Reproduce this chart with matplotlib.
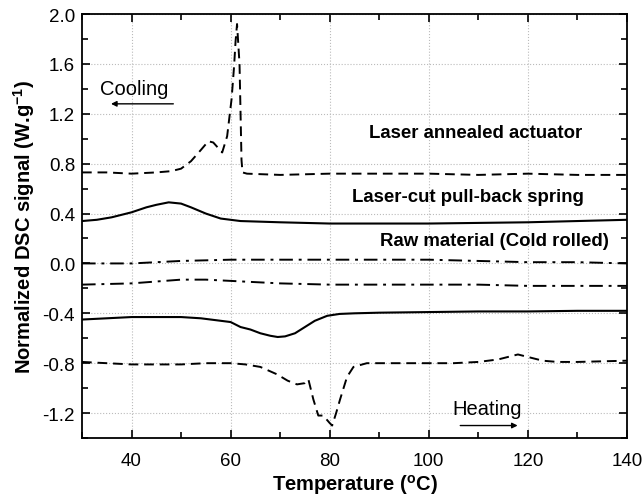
import matplotlib
matplotlib.use("Agg")
import matplotlib.pyplot as plt

plt.rcParams['font.family'] = ['Liberation Sans', 'DejaVu Sans']

# laser annealed actuator, cooling (dashed, top)
act_cool_t = [30, 35, 40, 45, 48, 50, 52, 54, 55.5, 56.5, 58.3, 59.3, 60.2, 60.7, 61.0, 61.3,
              61.8, 62.0, 62.2, 62.4, 63.3, 70, 80, 90, 100, 110, 120, 130, 140]
act_cool_s = [0.73, 0.73, 0.72, 0.73, 0.74, 0.76, 0.82, 0.91, 0.98, 0.97, 0.89, 1.02, 1.32, 1.58, 1.78, 1.92,
              1.60, 1.22, 0.83, 0.73, 0.72, 0.71, 0.72, 0.72, 0.72, 0.71, 0.72, 0.71, 0.71]

# laser-cut pull-back spring, cooling (solid)
spr_cool_t = [30, 33, 36, 40, 43, 45, 47.5, 50, 52, 55, 58, 62, 66, 70, 80, 90, 100, 110, 120, 130, 140]
spr_cool_s = [0.34, 0.35, 0.37, 0.41, 0.45, 0.47, 0.49, 0.48, 0.45, 0.40, 0.36, 0.34, 0.335, 0.33, 0.32,
              0.32, 0.32, 0.325, 0.33, 0.34, 0.35]

# raw material (cold rolled), cooling and heating (dash-dot)
raw_cool_t = [30, 40, 50, 60, 70, 80, 90, 100, 110, 120, 130, 140]
raw_cool_s = [0.0, 0.0, 0.02, 0.03, 0.03, 0.03, 0.03, 0.03, 0.02, 0.01, 0.01, 0.0]
raw_heat_t = [30, 40, 50, 55, 60, 70, 80, 90, 100, 110, 120, 130, 140]
raw_heat_s = [-0.17, -0.16, -0.13, -0.13, -0.14, -0.16, -0.17, -0.17, -0.17, -0.17, -0.18, -0.18, -0.18]

# laser-cut pull-back spring, heating (solid)
spr_heat_t = [30, 35, 40, 45, 50, 54, 58, 60, 61, 62, 64, 66, 68, 69.5, 71, 73, 75, 77, 79.5, 82,
              85, 90, 100, 110, 120, 130, 140]
spr_heat_s = [-0.45, -0.44, -0.43, -0.43, -0.43, -0.44, -0.46, -0.47, -0.49, -0.51, -0.53, -0.56, -0.58,
              -0.59, -0.585, -0.56, -0.51, -0.46, -0.42, -0.405, -0.40, -0.395, -0.39, -0.385, -0.385, -0.38, -0.38]

# laser annealed actuator, heating (dashed, bottom)
act_heat_t = [30, 35, 40, 45, 50, 55, 60, 63, 66, 69.4, 71.5, 73.4, 75.0, 75.7, 76.7, 77.7, 78.7, 80.0, 80.5,
              81.3, 82.1, 83.5, 84.8, 87.5, 90, 100, 105, 110, 114, 116, 118, 120, 123, 126, 130, 140]
act_heat_s = [-0.79, -0.80, -0.81, -0.81, -0.81, -0.80, -0.80, -0.81, -0.83, -0.89, -0.94, -0.97, -0.96, -0.93,
              -1.09, -1.22, -1.22, -1.28, -1.30, -1.20, -1.09, -0.91, -0.83, -0.80, -0.80, -0.80, -0.80, -0.79,
              -0.77, -0.75, -0.73, -0.75, -0.78, -0.79, -0.79, -0.78]

fig = plt.figure(figsize=(6.43, 5.02), dpi=100)
ax = fig.add_axes([0.1275, 0.1255, 0.8475, 0.8445])

dash = (0, (5, 3))
dashdot = (0, (7, 3, 1.5, 3))
ax.plot(act_cool_t, act_cool_s, color='black', lw=1.4, linestyle=dash)
ax.plot(spr_cool_t, spr_cool_s, color='black', lw=1.5)
ax.plot(raw_cool_t, raw_cool_s, color='black', lw=1.4, linestyle=dashdot)
ax.plot(raw_heat_t, raw_heat_s, color='black', lw=1.4, linestyle=dashdot)
ax.plot(spr_heat_t, spr_heat_s, color='black', lw=1.5)
ax.plot(act_heat_t, act_heat_s, color='black', lw=1.4, linestyle=dash)

ax.set_xlim(30, 140)
ax.set_ylim(-1.4, 2.0)
ax.set_xticks([40, 60, 80, 100, 120, 140])
ax.set_xticks([30, 50, 70, 90, 110, 130], minor=True)
ax.set_yticks([-1.2, -0.8, -0.4, 0.0, 0.4, 0.8, 1.2, 1.6, 2.0])
ax.set_yticks([-1.4, -1.0, -0.6, -0.2, 0.2, 0.6, 1.0, 1.4, 1.8], minor=True)
ax.set_yticklabels(['-1.2', '-0.8', '-0.4', '0.0', '0.4', '0.8', '1.2', '1.6', '2.0'])
ax.grid(True, which='major', color='#bbbbbb', linestyle=':', linewidth=0.8)
ax.tick_params(which='both', direction='in', top=True, right=True, labelsize=13.5, width=1.2)
ax.tick_params(which='major', length=6, pad=5)
ax.tick_params(which='minor', length=4)
ax.tick_params(axis='x', which='major', pad=10)
for s in ax.spines.values():
    s.set_linewidth(1.3)

ax.set_xlabel('Temperature ($^{\\mathregular{o}}$C)', fontsize=14.5, fontweight='bold', labelpad=2)
ax.set_ylabel('Normalized DSC signal (W.g$^{\\mathregular{-1}}$)', fontsize=14.5, fontweight='bold', labelpad=4)

ax.text(109.4, 1.05, 'Laser annealed actuator', ha='center', va='center', fontsize=13.4, fontweight='bold')
ax.text(108.0, 0.54, 'Laser-cut pull-back spring', ha='center', va='center', fontsize=13.4, fontweight='bold')
ax.text(113.2, 0.18, 'Raw material (Cold rolled)', ha='center', va='center', fontsize=13.4, fontweight='bold')

ax.text(33.6, 1.40, 'Cooling', ha='left', va='center', fontsize=14.5)
ax.annotate('', xy=(35.3, 1.28), xytext=(49.0, 1.28),
            arrowprops=dict(arrowstyle='-|>', color='black', lw=1.0, mutation_scale=8))
ax.text(104.7, -1.16, 'Heating', ha='left', va='center', fontsize=14.5)
ax.annotate('', xy=(118.5, -1.30), xytext=(105.8, -1.30),
            arrowprops=dict(arrowstyle='-|>', color='black', lw=1.0, mutation_scale=8))

fig.savefig('out.png', dpi=100)
